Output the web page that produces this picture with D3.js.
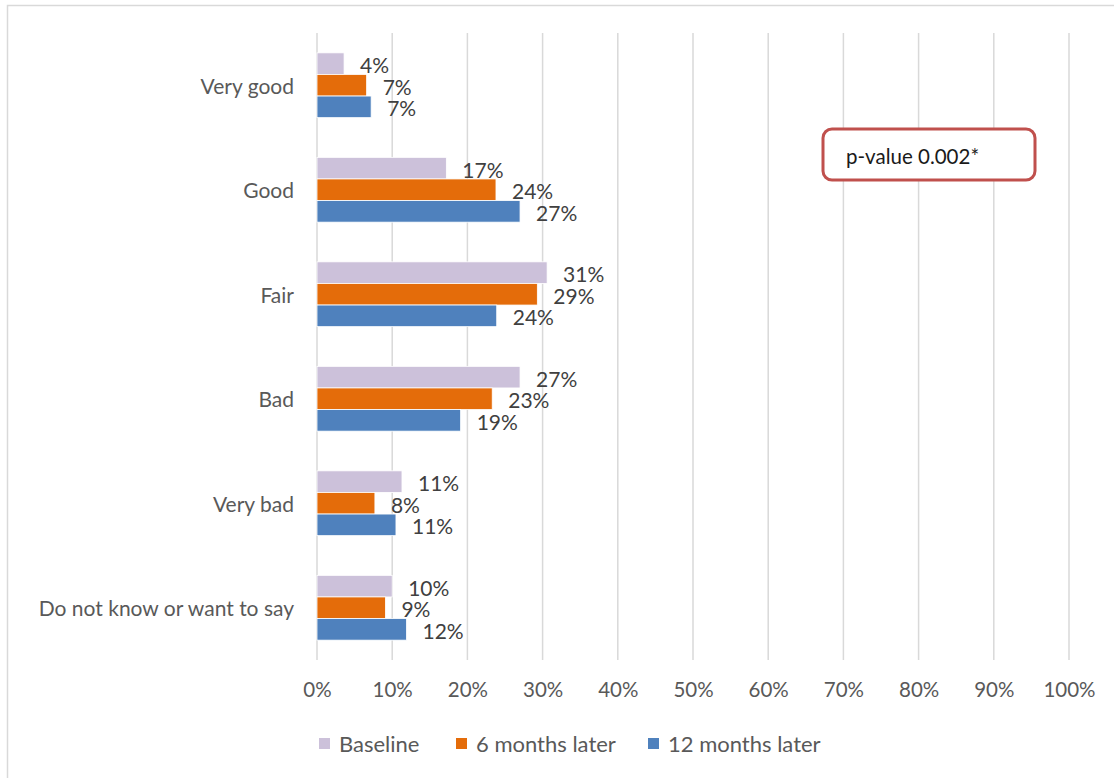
<!DOCTYPE html>
<html>
<head>
<meta charset="utf-8">
<script src="https://cdn.jsdelivr.net/npm/d3@7"></script>
<style>
  html, body { margin: 0; padding: 0; background: #fff; }
  svg { display: block; }
  text { font-family: Lato, "Open Sans", sans-serif; }
</style>
</head>
<body>
<svg id="chart" width="1114" height="778"></svg>
<script>
// Self-rated status by survey wave (share of respondents)
const categories = ["Very good", "Good", "Fair", "Bad", "Very bad", "Do not know or want to say"];
const seriesNames = ["Baseline", "6 months later", "12 months later"];
const baseline  = [0.036, 0.172, 0.306, 0.270, 0.113, 0.100];
const months6   = [0.066, 0.238, 0.293, 0.233, 0.077, 0.091];
const months12  = [0.072, 0.270, 0.239, 0.191, 0.105, 0.119];
const colors = ["#ccc1da", "#e46c0a", "#4f81bd"];
const xTicks = [0, 0.1, 0.2, 0.3, 0.4, 0.5, 0.6, 0.7, 0.8, 0.9, 1.0];
const noteText = "p-value 0.002*";

const seriesValues = [baseline, months6, months12];

const svg = d3.select("#chart");

// outer chart frame
svg.append("rect")
  .attr("x", 7.5).attr("y", 5.5)
  .attr("width", 1120).attr("height", 800)
  .attr("fill", "#fff")
  .attr("stroke", "#d9d9d9").attr("stroke-width", 1.5);

const plot = { left: 317, right: 1069, top: 33, bottom: 660 };

const x = d3.scaleLinear().domain([0, 1]).range([plot.left, plot.right]);
const y = d3.scaleBand().domain(categories).range([plot.top, plot.bottom]).paddingInner(0.38).paddingOuter(0.19);
const ySub = d3.scaleBand().domain(seriesNames).range([0, y.bandwidth()]);

// vertical gridlines
svg.append("g")
  .selectAll("line")
  .data(xTicks)
  .join("line")
  .attr("x1", d => x(d)).attr("x2", d => x(d))
  .attr("y1", plot.top).attr("y2", plot.bottom)
  .attr("stroke", "#d9d9d9").attr("stroke-width", 1.5);

// x axis tick labels
const xAxis = d3.axisBottom(x).tickValues(xTicks).tickFormat(d3.format(".0%")).tickSize(0).tickPadding(0);
const gx = svg.append("g").attr("transform", `translate(0,${plot.bottom})`).call(xAxis);
gx.select(".domain").remove();
gx.selectAll("text")
  .attr("y", 30).attr("dy", "0.35em")
  .attr("fill", "#595959")
  .style("font-size", "20.5px")
  .style("font-family", "Lato, sans-serif");

// category axis labels
const yAxis = d3.axisLeft(y).tickSize(0).tickPadding(23);
const gy = svg.append("g").attr("transform", `translate(${plot.left},0)`).call(yAxis);
gy.select(".domain").remove();
gy.selectAll("text")
  .attr("y", 2)
  .attr("fill", "#595959")
  .style("font-size", "21px")
  .style("font-family", "Lato, sans-serif");

// bars and value labels
const rows = [];
seriesNames.forEach((s, si) => {
  categories.forEach((c, ci) => {
    rows.push({ series: s, si, category: c, value: seriesValues[si][ci] });
  });
});

const barG = svg.append("g");
barG.selectAll("rect")
  .data(rows)
  .join("rect")
  .attr("x", x(0))
  .attr("y", d => y(d.category) + ySub(d.series))
  .attr("width", d => x(d.value) - x(0))
  .attr("height", ySub.bandwidth())
  .attr("fill", d => colors[d.si])
  .attr("stroke", "#fff").attr("stroke-width", 0.8);

svg.append("g")
  .selectAll("text")
  .data(rows)
  .join("text")
  .attr("x", d => x(d.value) + 16)
  .attr("y", d => y(d.category) + ySub(d.series) + ySub.bandwidth() / 2 + 2)
  .attr("dy", "0.35em")
  .attr("fill", "#404040")
  .style("font-size", "21px")
  .text(d => d3.format(".0%")(d.value));

// annotation box
const note = svg.append("g");
note.append("rect")
  .attr("x", 823).attr("y", 129)
  .attr("width", 212).attr("height", 51)
  .attr("rx", 9).attr("ry", 9)
  .attr("fill", "#fff")
  .attr("stroke", "#c0504d").attr("stroke-width", 3);
note.append("text")
  .attr("x", 846).attr("y", 157).attr("dy", "0.35em")
  .attr("fill", "#1a1a1a")
  .style("font-size", "20.5px")
  .text(noteText);

// legend
const legendX = [319, 456, 648];
const legend = svg.append("g");
seriesNames.forEach((s, i) => {
  legend.append("rect")
    .attr("x", legendX[i]).attr("y", 738)
    .attr("width", 11).attr("height", 11)
    .attr("fill", colors[i]);
  legend.append("text")
    .attr("x", legendX[i] + 20).attr("y", 744).attr("dy", "0.35em")
    .attr("fill", "#595959")
    .style("font-size", "22px")
    .text(s);
});
</script>
</body>
</html>
